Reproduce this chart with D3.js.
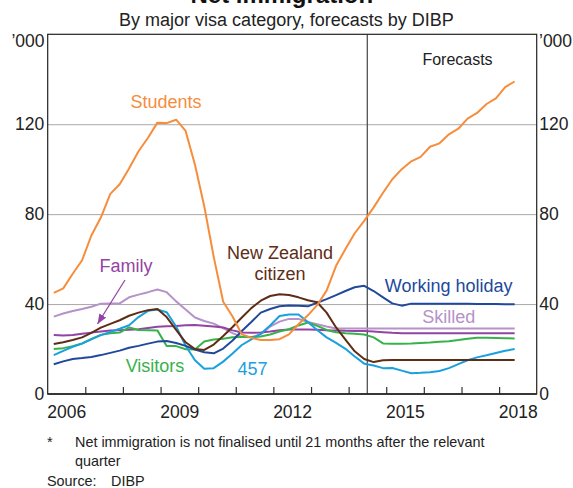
<!DOCTYPE html>
<html>
<head>
<meta charset="utf-8">
<script src="https://cdn.jsdelivr.net/npm/d3@7"></script>
<style>
body { margin: 0; background: #fff; }
svg { display: block; font-family: "Liberation Sans", Arial, sans-serif; }
</style>
</head>
<body>
<svg id="chart" width="573" height="488"></svg>
<script>
// quarterly, Mar 2006 to Jun 2018, thousands
var quarters = d3.timeMonth.range(new Date(2006, 2, 1), new Date(2018, 6, 1), 3);

var students = [45, 47, 53.5, 59.5, 70.5, 78.5, 89, 93.3, 100.3, 108, 114, 120.7, 120.5, 122, 117, 102, 83.5, 61, 41, 34.5,
    26.5, 25, 24, 24, 24.4, 26.5, 31, 35, 39.5, 46, 57, 64.5, 71.5, 77, 83, 89.5, 95.5, 100, 103.5, 105.5,
    110, 111.5, 115.5, 118, 122.5, 125, 129, 131.5, 136.5, 139];
var nzCitizen = [22.2, 23, 24, 25.2, 27.2, 29.5, 31.2, 32.8, 34.8, 36.2, 37.3, 37.8, 34.2, 28.5, 23, 20, 19.6, 22, 25.8, 29.8,
    34, 38.2, 41.5, 43.6, 44.4, 44, 43, 41.7, 40.8, 36.2, 29.6, 24.2, 19, 15.6, 14.2, 15, 15.1, 15.1, 15.1, 15.1,
    15.1, 15.1, 15.1, 15.1, 15.1, 15.1, 15.1, 15.1, 15.1, 15.1];
var workingHoliday = [13.2, 14.5, 15.6, 16, 16.5, 17.3, 18.3, 19.3, 20.6, 21.4, 22.4, 23.3, 23.6, 22.7, 21.4, 19.8, 18.6, 18.1, 20.2, 23.8,
    28, 32, 36.2, 37.8, 39, 39.4, 39.3, 39, 40.6, 42.2, 44, 45.8, 47.5, 48.1, 45.8, 43, 40.3, 39.3, 40.2, 40.2,
    40.2, 40.2, 40.1, 40.1, 40.1, 40, 40, 40, 39.9, 39.9];
var skilled = [34.4, 35.8, 36.9, 37.8, 38.8, 40.2, 40.3, 40.3, 43, 44.2, 45.3, 46.5, 45.3, 41.2, 37.6, 34, 32.5, 31.3, 29.3, 27.1,
    25.4, 25.2, 26.6, 30, 32.2, 33.4, 33.4, 32, 31, 30, 29.1, 29.1, 29.1, 29.1, 29.1, 29.1, 29.1, 29.1, 29.1, 29.1,
    29.1, 29.1, 29.1, 29.1, 29.1, 29.1, 29.1, 29.1, 29.1, 29.1];
var family = [26.2, 26, 26.2, 26.8, 27.3, 27.8, 28.2, 28.4, 28.6, 28.8, 29.4, 29.9, 30.1, 30.3, 30.6, 30.7, 30.4, 30, 29.6, 28.3,
    27.4, 27.2, 27.4, 27.8, 28.4, 28.7, 28.7, 28.7, 28.6, 28.4, 28.3, 28.1, 28, 28, 27.8, 27.5, 27.2, 27, 27, 27,
    27, 27, 27, 27, 27, 27, 27, 27, 27, 27];
var visitors = [20, 20.4, 21.3, 22.5, 24.5, 26.3, 27, 27.3, 29.6, 28.5, 28.4, 28.3, 21.3, 21.3, 19.9, 19.8, 23.4, 24.2, 24.6, 25.2,
    25.4, 25.3, 25.6, 26.5, 27.8, 28.8, 30.5, 31.8, 30.3, 28.5, 27.5, 27, 26.8, 26.5, 25.2, 22.5, 22.4, 22.4, 22.5, 22.7,
    22.9, 23.2, 23.5, 24, 24.6, 25, 25, 24.9, 24.8, 24.7];
var visa457 = [17.3, 19.2, 21, 22.4, 24.3, 26.2, 27.6, 29, 30.6, 34.2, 37, 37.6, 36.4, 30, 21.5, 15, 11.2, 11.5, 14.4, 18,
    21.8, 24.3, 26.8, 30.5, 34.7, 35.4, 35.4, 32, 28.5, 25.2, 22.7, 20.1, 16.7, 13.5, 12.7, 11.5, 11.6, 10.4, 9.2, 9.4,
    9.7, 10.2, 11.5, 13.3, 15, 16.3, 17.2, 18.2, 19.2, 20];

var yTicks = [0, 40, 80, 120];
var gridTicks = [40, 80, 120];
var yearLabels = [2006, 2009, 2012, 2015, 2018];
var forecastStart = new Date(2014, 6, 1);

var svg = d3.select("#chart");
var plotLeft = 47.7, plotRight = 536.7, plotTop = 34.3, plotBottom = 394;

var x = d3.scaleTime()
    .domain([new Date(2006, 0, 1), new Date(2019, 0, 1)])
    .range([plotLeft, plotRight]);
var y = d3.scaleLinear().domain([0, 160]).range([plotBottom, plotTop]);

var lines = [
    {values: skilled, colour: "#b592c8"},
    {values: family, colour: "#9343a4"},
    {values: visitors, colour: "#37b24b"},
    {values: visa457, colour: "#1ba0de"},
    {values: workingHoliday, colour: "#21499b"},
    {values: nzCitizen, colour: "#5e2d16"},
    {values: students, colour: "#f68d3c"}
];

// titles
svg.append("text").attr("x", 286.5).attr("y", 3)
    .attr("text-anchor", "middle").attr("font-size", 24).attr("font-weight", "bold")
    .attr("fill", "#111").text("Net immigration*");
svg.append("text").attr("x", 286.5).attr("y", 26)
    .attr("text-anchor", "middle").attr("font-size", 18)
    .attr("fill", "#222").text("By major visa category, forecasts by DIBP");

// gridlines
svg.append("g")
    .attr("transform", "translate(" + plotLeft + ",0)")
    .call(d3.axisLeft(y).tickValues(gridTicks).tickSize(-(plotRight - plotLeft)).tickFormat(""))
    .call(function(g) {
	g.select(".domain").remove();
	g.selectAll("line").attr("stroke", "#a8a8a8").attr("stroke-width", 1);
    });

// year ticks on the bottom edge, pointing up
svg.append("g")
    .attr("transform", "translate(0," + plotBottom + ")")
    .call(d3.axisBottom(x).tickValues(d3.timeYear.range(new Date(2007, 0, 1), new Date(2019, 0, 1))).tickSize(-7).tickFormat(""))
    .call(function(g) {
	g.select(".domain").remove();
	g.selectAll("line").attr("stroke", "#333").attr("stroke-width", 1.2);
    });

// year labels centred on each year
svg.append("g")
    .attr("transform", "translate(0," + plotBottom + ")")
    .call(d3.axisBottom(x)
	  .tickValues(yearLabels.map(function(d) { return new Date(d, 6, 1); }))
	  .tickSize(0).tickPadding(11.5)
	  .tickFormat(d3.timeFormat("%Y")))
    .call(function(g) {
	g.select(".domain").remove();
	g.selectAll("text").attr("font-size", 17.5).attr("font-family", null).attr("fill", "#222");
    });

var yAxisStyle = function(g) {
    g.select(".domain").remove();
    g.selectAll("text").attr("font-size", 17.5).attr("font-family", null).attr("fill", "#222");
};
svg.append("g")
    .attr("transform", "translate(" + plotLeft + ",0)")
    .call(d3.axisLeft(y).tickValues(yTicks).tickSize(0).tickPadding(3.5))
    .call(yAxisStyle);
svg.append("g")
    .attr("transform", "translate(" + plotRight + ",0)")
    .call(d3.axisRight(y).tickValues(yTicks).tickSize(0).tickPadding(2.5))
    .call(yAxisStyle);

svg.append("text").attr("x", 44.5).attr("y", 47).attr("text-anchor", "end")
    .attr("font-size", 17.5).attr("fill", "#222").text("\u2019000");
svg.append("text").attr("x", 539).attr("y", 47)
    .attr("font-size", 17.5).attr("fill", "#222").text("\u2019000");

// forecast divider
svg.append("line")
    .attr("x1", x(forecastStart)).attr("x2", x(forecastStart))
    .attr("y1", plotTop).attr("y2", plotBottom)
    .attr("stroke", "#444").attr("stroke-width", 1.2);

// series
var line = d3.line()
    .x(function(d, i) { return x(quarters[i]); })
    .y(function(d) { return y(d); });

svg.append("g").selectAll("path")
    .data(lines)
    .enter().append("path")
    .attr("d", function(d) { return line(d.values); })
    .attr("fill", "none")
    .attr("stroke", function(d) { return d.colour; })
    .attr("stroke-width", 2)
    .attr("stroke-linejoin", "round");

// frame
svg.append("rect")
    .attr("x", plotLeft).attr("y", plotTop)
    .attr("width", plotRight - plotLeft).attr("height", plotBottom - plotTop)
    .attr("fill", "none").attr("stroke", "#222").attr("stroke-width", 1.2);
svg.append("line")
    .attr("x1", plotLeft).attr("x2", plotRight).attr("y1", plotBottom).attr("y2", plotBottom)
    .attr("stroke", "#222").attr("stroke-width", 1.6);

// labels
var labels = [
    ["Forecasts", 457.5, 65, "#222", 16],
    ["Students", 166, 108, "#f68d3c", 18],
    ["Family", 126, 272, "#9343a4", 18],
    ["New Zealand", 280, 258.5, "#5e2d16", 18],
    ["citizen", 280, 279.5, "#5e2d16", 18],
    ["Working holiday", 448.7, 292, "#21499b", 18],
    ["Skilled", 448.8, 323.3, "#b592c8", 18],
    ["Visitors", 155, 371.7, "#37b24b", 18],
    ["457", 252.5, 375, "#1ba0de", 18]
];
svg.append("g").selectAll("text")
    .data(labels)
    .enter().append("text")
    .attr("x", function(d) { return d[1]; })
    .attr("y", function(d) { return d[2]; })
    .attr("text-anchor", "middle")
    .attr("fill", function(d) { return d[3]; })
    .attr("font-size", function(d) { return d[4]; })
    .text(function(d) { return d[0]; });

// arrow for Family
svg.append("defs").append("marker")
    .attr("id", "arrow")
    .attr("viewBox", "0 0 10 8")
    .attr("refX", 10).attr("refY", 4)
    .attr("markerWidth", 10).attr("markerHeight", 8)
    .attr("markerUnits", "userSpaceOnUse")
    .attr("orient", "auto")
    .append("path").attr("d", "M0,0L10,4L0,8Z").attr("fill", "#9343a4");
svg.append("line")
    .attr("x1", 125).attr("y1", 280).attr("x2", 97.5).attr("y2", 324)
    .attr("stroke", "#9343a4").attr("stroke-width", 1.3)
    .attr("marker-end", "url(#arrow)");

// notes
var notes = svg.append("g").attr("font-size", 14.4).attr("fill", "#222");
notes.append("text").attr("x", 47).attr("y", 447).text("*");
notes.append("text").attr("x", 75).attr("y", 447)
    .text("Net immigration is not finalised until 21 months after the relevant");
notes.append("text").attr("x", 75).attr("y", 466).text("quarter");
notes.append("text").attr("x", 47).attr("y", 486).text("Source:");
notes.append("text").attr("x", 111).attr("y", 486).text("DIBP");
</script>
</body>
</html>
